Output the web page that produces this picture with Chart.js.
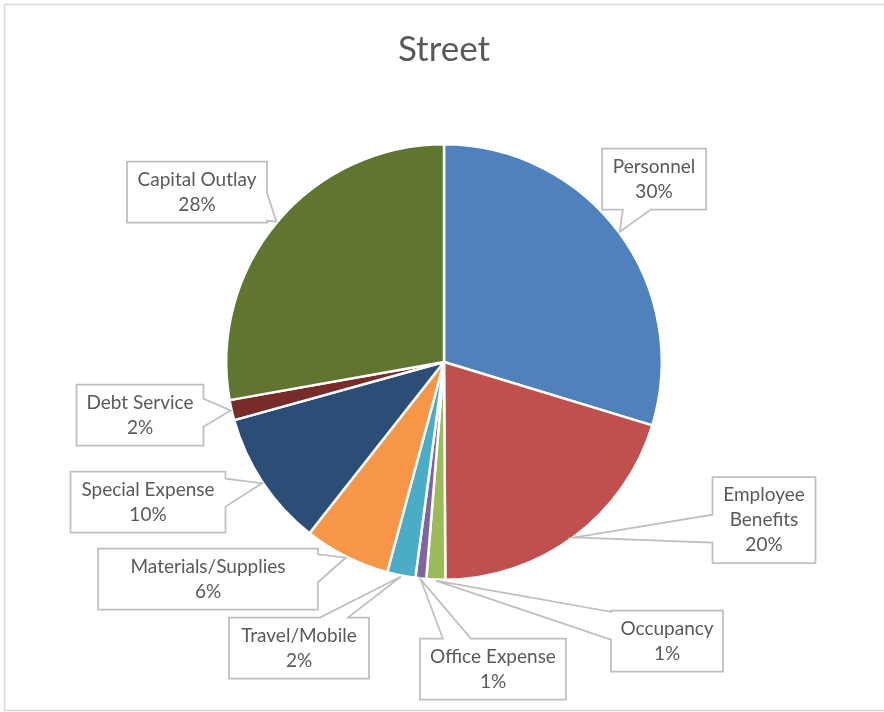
<!DOCTYPE html>
<html>
<head>
<meta charset="utf-8">
<title>Street</title>
<script src="https://cdn.jsdelivr.net/npm/chart.js@4.4.1/dist/chart.umd.min.js"></script>
<style>
  html, body { margin: 0; padding: 0; background: #fff; }
  #wrap { width: 884px; height: 712px; }
</style>
</head>
<body>
<div id="wrap"><canvas id="streetPie" width="884" height="712"></canvas></div>
<script>
// chart data
const categories = ['Personnel', 'Employee Benefits', 'Occupancy', 'Office Expense', 'Travel/Mobile',
    'Materials/Supplies', 'Special Expense', 'Debt Service', 'Capital Outlay'];
const shares = [29.7, 20.2, 1.4, 0.8, 2.1, 6.4, 10.1, 1.5, 27.8];
const sliceColors = ['#4F81BD', '#C0504D', '#9BBB59', '#8064A2', '#4BACC6',
    '#F79646', '#2C4D75', '#772C2A', '#5F7530'];

// where each callout box sits, relative to pie centre (px), and its width
const calloutOffsets = [[210, -183], [320, 158], [223, 279], [49, 307], [-145, 286],
    [-236, 217], [-296, 140], [-304, 53], [-247, -170]];
const calloutWidths = [104, 103, 112, 146, 140, 220, 155, 127, 140];

const labelFont = '19px Lato';
const textColor = '#595959';
const lineGap = 25;

const total = shares.reduce((a, b) => a + b, 0);

// outer frame like the Excel chart area
const framePlugin = {
    id: 'frame',
    beforeDraw(chart) {
        const ctx = chart.ctx;
        ctx.save();
        ctx.fillStyle = '#fff';
        ctx.fillRect(0, 0, chart.width, chart.height);
        ctx.strokeStyle = '#D9D9D9';
        ctx.lineWidth = 1.5;
        ctx.strokeRect(4.5, 4.5, chart.width + 10, chart.height - 6);
        ctx.restore();
    }
};

// callout labels with a wedge pointing at the slice
const calloutPlugin = {
    id: 'callouts',
    afterDatasetsDraw(chart) {
        const ctx = chart.ctx;
        const arcs = chart.getDatasetMeta(0).data;
        ctx.save();
        ctx.font = labelFont;
        arcs.forEach((arc, i) => {
            const mid = (arc.startAngle + arc.endAngle) / 2;
            const tx = arc.x + Math.cos(mid) * (arc.outerRadius + 1);
            const ty = arc.y + Math.sin(mid) * (arc.outerRadius + 1);

            const pct = Math.round(shares[i] / total * 100) + '%';
            const bw = calloutWidths[i];
            let lines = [categories[i]];
            if (ctx.measureText(categories[i]).width > bw - 12) lines = categories[i].split(' ');
            lines.push(pct);
            const bh = lines.length * lineGap + 11;

            const cx = arc.x + calloutOffsets[i][0];
            const cy = arc.y + calloutOffsets[i][1];
            const L = cx - bw / 2, R = cx + bw / 2, T = cy - bh / 2, B = cy + bh / 2;

            // which side faces the tip
            const nx = (tx - cx) / (bw / 2), ny = (ty - cy) / (bh / 2);
            let side;
            if (Math.abs(nx) > Math.abs(ny)) side = nx > 0 ? 'right' : 'left';
            else side = ny > 0 ? 'bottom' : 'top';

            const half = 14;
            const clamp = (v, a, b) => Math.max(a, Math.min(b, v));
            let b1, b2;
            if (side === 'top' || side === 'bottom') {
                const c = clamp((clamp(tx, L, R) + cx) / 2, L + half, R - half);
                b1 = c - half; b2 = c + half;
            } else {
                const c = clamp((clamp(ty, T, B) + cy) / 2, T + half, B - half);
                b1 = c - half; b2 = c + half;
            }

            ctx.beginPath();
            ctx.moveTo(L, T);
            if (side === 'top') { ctx.lineTo(b1, T); ctx.lineTo(tx, ty); ctx.lineTo(b2, T); }
            ctx.lineTo(R, T);
            if (side === 'right') { ctx.lineTo(R, b1); ctx.lineTo(tx, ty); ctx.lineTo(R, b2); }
            ctx.lineTo(R, B);
            if (side === 'bottom') { ctx.lineTo(b2, B); ctx.lineTo(tx, ty); ctx.lineTo(b1, B); }
            ctx.lineTo(L, B);
            if (side === 'left') { ctx.lineTo(L, b2); ctx.lineTo(tx, ty); ctx.lineTo(L, b1); }
            ctx.closePath();
            ctx.fillStyle = '#fff';
            ctx.fill();
            ctx.strokeStyle = '#BFBFBF';
            ctx.lineWidth = 1.75;
            ctx.lineJoin = 'miter';
            ctx.stroke();

            ctx.fillStyle = textColor;
            ctx.textAlign = 'center';
            ctx.textBaseline = 'middle';
            const y0 = cy - (lines.length - 1) * lineGap / 2;
            lines.forEach((ln, k) => ctx.fillText(ln, cx, y0 + k * lineGap));
        });
        ctx.restore();
    }
};

const ctxPie = document.getElementById('streetPie').getContext('2d');
new Chart(ctxPie, {
    type: 'pie',
    data: {
        labels: categories,
        datasets: [{
            data: shares,
            backgroundColor: sliceColors,
            borderColor: '#ffffff',
            borderWidth: 2.5
        }]
    },
    options: {
        responsive: false,
        animation: false,
        events: [],
        layout: { padding: { left: 224, right: 220, top: 0, bottom: 131 } },
        plugins: {
            legend: { display: false },
            tooltip: { enabled: false },
            title: {
                display: true,
                text: 'Street',
                color: textColor,
                font: { family: 'Lato', size: 35, weight: 'normal' },
                padding: { top: 29, bottom: 72 }
            }
        }
    },
    plugins: [framePlugin, calloutPlugin]
});
</script>
</body>
</html>
